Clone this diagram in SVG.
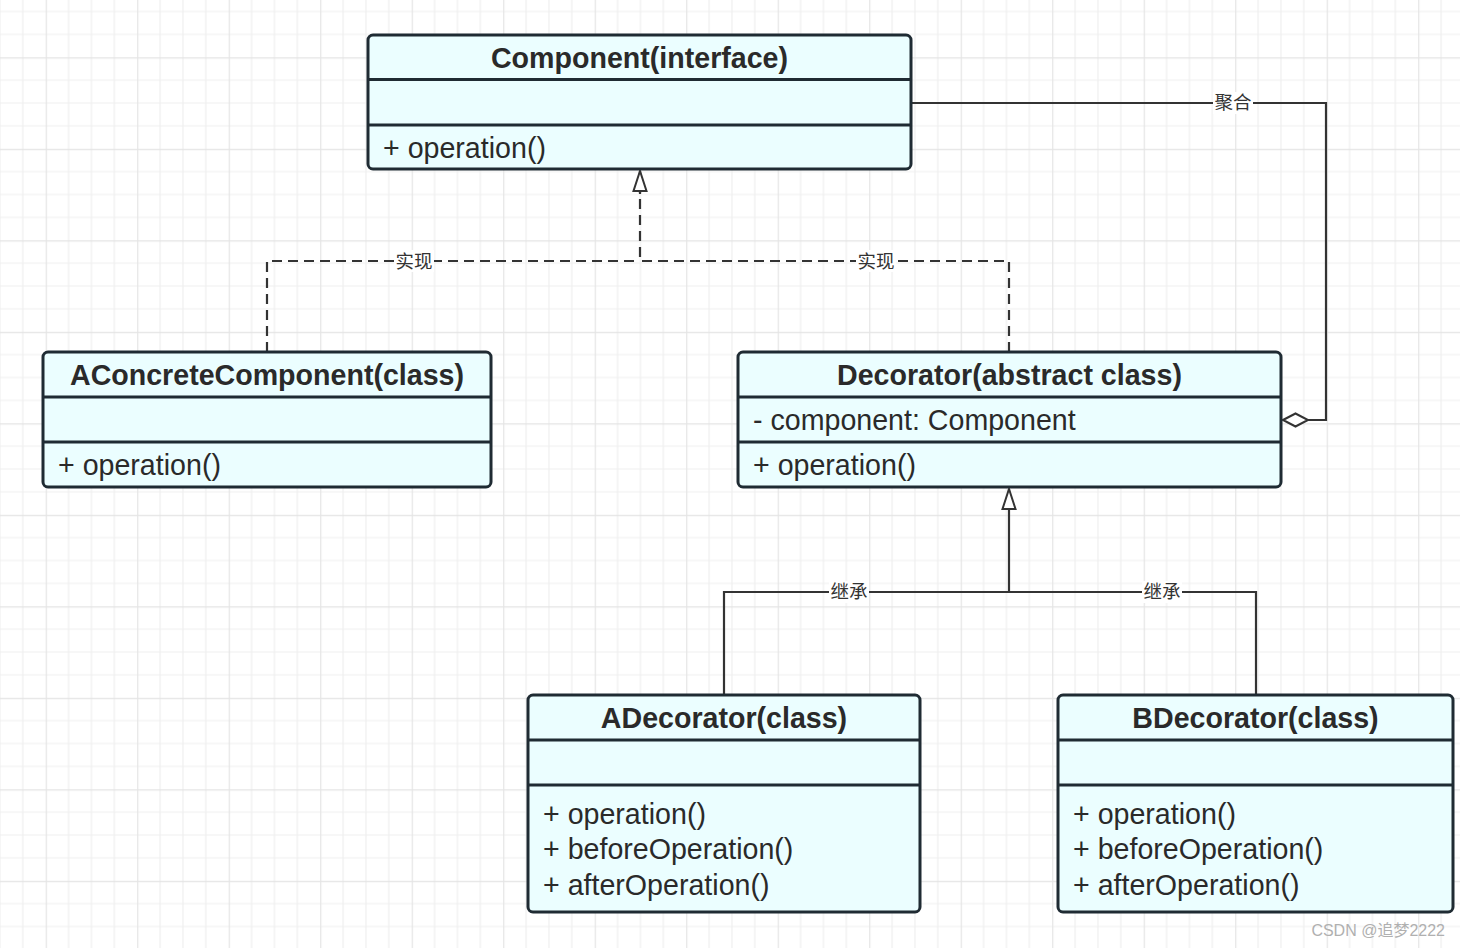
<svg xmlns="http://www.w3.org/2000/svg" width="1460" height="948" viewBox="0 0 1460 948">
<defs>
<pattern id="grid" patternUnits="userSpaceOnUse" x="45.7" y="57.3" width="91.5" height="91.5">
<rect width="91.5" height="91.5" fill="#ffffff"/>
<path d="M22.875 0V91.5M45.75 0V91.5M68.625 0V91.5M0 22.875H91.5M0 45.75H91.5M0 68.625H91.5" stroke="#f0f0f0" stroke-width="1.2" fill="none"/>
<path d="M0.5 0V91.5M0 0.5H91.5" stroke="#e4e4e4" stroke-width="1.3" fill="none"/>
</pattern>
<marker id="tri" viewBox="0 0 24 16" refX="22" refY="8" markerWidth="24" markerHeight="16" markerUnits="userSpaceOnUse" orient="auto">
<path d="M22 8 L2 1.5 L2 14.5 Z" fill="#ffffff" stroke="#333333" stroke-width="2" stroke-linejoin="miter"/>
</marker>
</defs>
<style>
.box{fill:#ebfeff;stroke:#1f2b33;stroke-width:3}
.sep{stroke:#1f2b33;stroke-width:3}
.hd{font-family:"Liberation Sans",Arial,sans-serif;font-weight:bold;font-size:28.6px;fill:#2a2a2a;text-anchor:middle}
.tx{font-family:"Liberation Sans",Arial,sans-serif;font-size:28.6px;fill:#2a2a2a}
.ln{fill:none;stroke:#333333;stroke-width:2.2}
.dash{stroke-dasharray:10 6}
.lb{font-family:"Noto Sans CJK SC","Liberation Sans",sans-serif;font-size:18.5px;fill:#333333;text-anchor:middle}
.lbg{fill:#ffffff}
</style>
<rect width="1460" height="948" fill="url(#grid)"/>

<g id="connectors">
<path class="ln dash" d="M267 352V261H640"/>
<path class="ln dash" d="M1009 352V261H640V192"/>
<path class="ln" d="M640 194V171" marker-end="url(#tri)"/>
<path class="ln" d="M911 103H1326V420H1308"/>
<path d="M1283 420L1295.5 413.5L1308 420L1295.5 426.5Z" fill="#ffffff" stroke="#333333" stroke-width="2"/>
<path class="ln" d="M724 695V592H1256V695"/>
<path class="ln" d="M1009 592V489" marker-end="url(#tri)"/>
<rect class="lbg" x="394" y="250" width="40" height="22"/>
<text class="lb" x="414" y="268">实现</text>
<rect class="lbg" x="856" y="250" width="40" height="22"/>
<text class="lb" x="876" y="268">实现</text>
<rect class="lbg" x="1213" y="92" width="40" height="22"/>
<text class="lb" x="1233" y="109">聚合</text>
<rect class="lbg" x="829" y="581" width="40" height="22"/>
<text class="lb" x="849" y="598">继承</text>
<rect class="lbg" x="1142" y="581" width="40" height="22"/>
<text class="lb" x="1162" y="598">继承</text>
</g>

<g id="component">
<rect class="box" x="368" y="35" width="543" height="134" rx="5"/>
<line class="sep" x1="368" y1="79.5" x2="911" y2="79.5"/>
<line class="sep" x1="368" y1="125" x2="911" y2="125"/>
<text class="hd" x="639.5" y="68">Component(interface)</text>
<text class="tx" x="383" y="158">+ operation()</text>
</g>

<g id="aconcretecomponent">
<rect class="box" x="43" y="352" width="448" height="135" rx="5"/>
<line class="sep" x1="43" y1="397" x2="491" y2="397"/>
<line class="sep" x1="43" y1="442" x2="491" y2="442"/>
<text class="hd" x="267" y="385">AConcreteComponent(class)</text>
<text class="tx" x="58" y="475">+ operation()</text>
</g>

<g id="decorator">
<rect class="box" x="738" y="352" width="543" height="135" rx="5"/>
<line class="sep" x1="738" y1="397" x2="1281" y2="397"/>
<line class="sep" x1="738" y1="442" x2="1281" y2="442"/>
<text class="hd" x="1009.5" y="385">Decorator(abstract class)</text>
<text class="tx" x="753" y="430">- component: Component</text>
<text class="tx" x="753" y="475">+ operation()</text>
</g>

<g id="adecorator">
<rect class="box" x="528" y="695" width="392" height="217" rx="5"/>
<line class="sep" x1="528" y1="740" x2="920" y2="740"/>
<line class="sep" x1="528" y1="785" x2="920" y2="785"/>
<text class="hd" x="724" y="728">ADecorator(class)</text>
<text class="tx" x="543" y="824">+ operation()</text>
<text class="tx" x="543" y="859">+ beforeOperation()</text>
<text class="tx" x="543" y="895">+ afterOperation()</text>
</g>

<g id="bdecorator">
<rect class="box" x="1058" y="695" width="395" height="217" rx="5"/>
<line class="sep" x1="1058" y1="740" x2="1453" y2="740"/>
<line class="sep" x1="1058" y1="785" x2="1453" y2="785"/>
<text class="hd" x="1255.5" y="728">BDecorator(class)</text>
<text class="tx" x="1073" y="824">+ operation()</text>
<text class="tx" x="1073" y="859">+ beforeOperation()</text>
<text class="tx" x="1073" y="895">+ afterOperation()</text>
</g>

<text x="1445" y="936" font-family="'Liberation Sans','Noto Sans CJK SC',sans-serif" font-size="16" fill="#b0b0b0" text-anchor="end">CSDN @追梦2222</text>
</svg>
